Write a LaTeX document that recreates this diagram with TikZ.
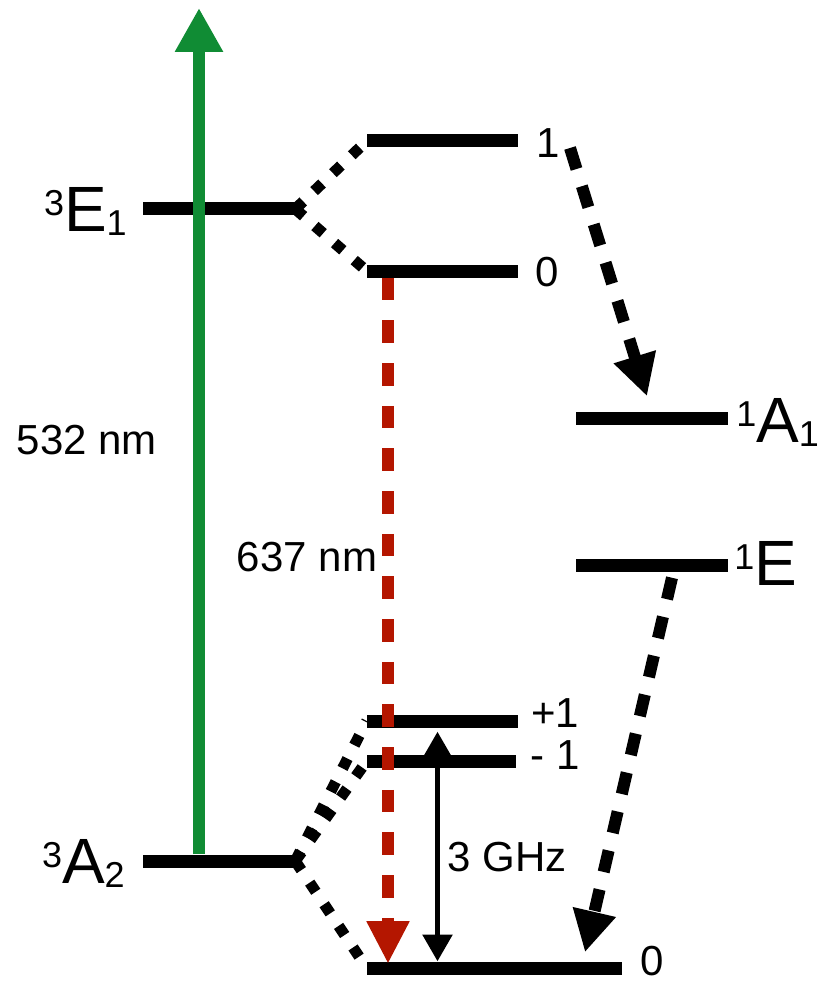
\documentclass[tikz,border=0pt]{standalone}
\usepackage{fontspec}
\setmainfont{Liberation Sans}
\usetikzlibrary{arrows.meta,calc}
\definecolor{laser}{RGB}{16,140,52}
\definecolor{zpl}{RGB}{180,22,0}
\newcommand{\termlab}[3]{{\fontsize{27}{27}\selectfont\raisebox{12pt}{#1}}{\fontsize{48}{48}\selectfont #2}{\fontsize{27}{27}\selectfont\raisebox{-3pt}{#3}}}
\begin{document}
\begin{tikzpicture}[x=0.75pt,y=-0.75pt,
  lvl/.style={fill=black,inner sep=0pt,minimum height=9.75pt,minimum width=114pt},
  lab/.style={inner sep=0pt,font=\fontsize{31.5}{31.5}\selectfont},
  big/.style={inner sep=0pt},
  dots/.style={line width=8.25pt,dash pattern=on 8.25pt off 11.25pt},
  bdash/.style={line width=9pt,dash pattern=on 16.5pt off 13.5pt,-{Triangle[length=31pt,width=31pt]}},
  reddash/.style={zpl,line width=9pt,dash pattern=on 17pt off 15pt,-{Triangle[length=32pt,width=30pt]}},
  greenarrow/.style={laser,line width=9pt,-{Triangle[length=33pt,width=34pt]}},
  ghz/.style={line width=3.4pt,{Triangle[length=20pt,width=22pt]}-{Triangle[length=20pt,width=22pt]}}
]
\useasboundingbox (0,0) rectangle (820,984);
% levels
\node[lvl] (E3) at (219,209) {};
\node[lvl,minimum width=113.25pt] (ms1) at (442.5,141) {};
\node[lvl,minimum width=113.25pt] (ms0) at (442.5,271) {};
\node[lvl] (A1) at (652,418) {};
\node[lvl] (E1) at (652,565) {};
\node[lvl,minimum width=113.25pt] (gp) at (442.5,721) {};
\node[lvl,minimum width=111.75pt] (gm) at (441.5,761) {};
\node[lvl,minimum width=191.25pt] (g0) at (494.5,968) {};
\node[lvl] (A2) at (219,861) {};
% term labels
\node[big,anchor=base east] (lE3) at (127,232) {\termlab{3}{E}{1}};
\node[big,anchor=base east] (lA2) at (125,883) {\termlab{3}{A}{2}};
\node[big,anchor=base west] (lA1) at (736,442) {\termlab{1}{A}{1}};
\node[big,anchor=base west] (lE1) at (734,585) {\termlab{1}{E}{}};
% small labels
\node[lab] (t1) at (548,143) {1};
\node[lab] (t0) at (547,272) {0};
\node[lab] (tp) at (555,713) {+1};
\node[lab] (tm) at (555,755) {- 1};
\node[lab,anchor=west] (tg0) at (640,961) {0};
\node[lab] (t532) at (87,440) {532 nm};
\node[lab] (t637) at (307,557) {637 nm};
\node[lab] (tghz) at (507,857) {3 GHz};
% dotted splittings
\draw[dots] (E3.east) -- (ms1.west);
\draw[dots] (E3.east) -- (ms0.west);
\draw[dots] (A2.east) -- (gp.west);
\draw[dots] (A2.east) -- (gm.west);
\draw[dots] (A2.east) -- (g0.west);
% microwave arrow
\coordinate (ghzx) at (437.5,0);
\draw[ghz,shorten >=3pt] (g0.north -| ghzx) -- (gp.south -| ghzx);
% red ZPL arrow
\coordinate (redx) at (388,0);
\draw[reddash,shorten >=-2pt] (ms0.south -| redx) -- (g0.north -| redx);
% green laser
\coordinate (gtop) at (199,8);
\draw[greenarrow] (A2.north -| gtop) -- (gtop);
% intersystem crossing arrows
\coordinate (s1) at (570,148);
\draw[bdash] (s1) -- ($(A1.north)+(-5,-15)$);
\draw[bdash] ($(E1.south)+(20,6)$) -- ($(g0.north)+(90.5,-9)$);
\end{tikzpicture}
\end{document}
